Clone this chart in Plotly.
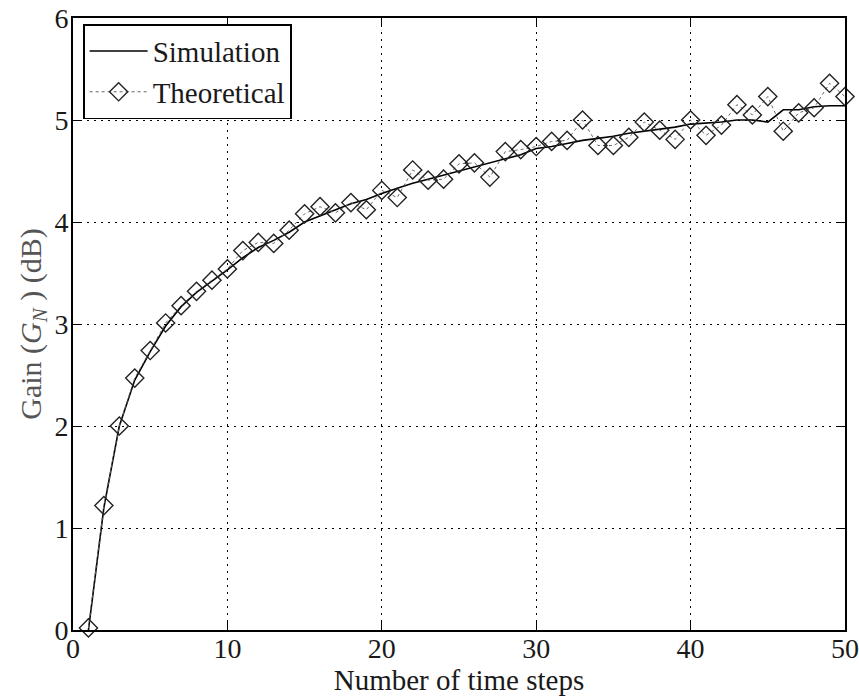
import plotly.graph_objects as go

steps = list(range(1, 51))

simulation = [0.0, 1.2, 2.0, 2.45, 2.73, 2.98, 3.17, 3.31, 3.42, 3.53,
              3.65, 3.75, 3.82, 3.9, 4.0, 4.06, 4.12, 4.18, 4.22, 4.28,
              4.33, 4.38, 4.42, 4.46, 4.5, 4.54, 4.58, 4.62, 4.66, 4.72,
              4.74, 4.77, 4.8, 4.82, 4.84, 4.87, 4.89, 4.91, 4.93, 4.96,
              4.97, 4.98, 5.0, 5.0, 4.98, 5.1, 5.1, 5.13, 5.14, 5.14]

theoretical = [0.02, 1.22, 2.0, 2.47, 2.74, 3.01, 3.18, 3.32, 3.43, 3.54,
               3.72, 3.8, 3.79, 3.92, 4.08, 4.15, 4.09, 4.19, 4.12, 4.31,
               4.24, 4.51, 4.41, 4.42, 4.57, 4.58, 4.44, 4.69, 4.71, 4.74,
               4.79, 4.8, 5.0, 4.75, 4.75, 4.83, 4.98, 4.9, 4.81, 5.0,
               4.85, 4.95, 5.15, 5.05, 5.23, 4.89, 5.07, 5.12, 5.36, 5.23]

x_ticks = [0, 10, 20, 30, 40, 50]
y_ticks = [0, 1, 2, 3, 4, 5, 6]

fig = go.Figure()
fig.add_trace(go.Scatter(
    x=steps, y=simulation, mode="lines", name="Simulation",
    line=dict(color="black", width=1.6), cliponaxis=False))
fig.add_trace(go.Scatter(
    x=steps, y=theoretical, mode="lines+markers", name="Theoretical",
    line=dict(color="#666666", width=1, dash="dot"),
    marker=dict(symbol="diamond-open", size=14, color="#222222",
                line=dict(width=1.4, color="#222222")),
    cliponaxis=False))

font_family = "Liberation Serif, Times New Roman, serif"
axis_common = dict(
    showline=True, linecolor="black", linewidth=1.6, mirror="ticks",
    ticks="inside", ticklen=8, tickwidth=1.4, tickcolor="black",
    showgrid=True, gridcolor="black", gridwidth=1.2, griddash="2px,5px",
    zeroline=False, automargin=False,
    tickfont=dict(family=font_family, size=28, color="#1a1a1a"),
)

fig.update_layout(
    width=859, height=698,
    margin=dict(l=73, r=14, t=18, b=68),
    paper_bgcolor="white", plot_bgcolor="white",
    font=dict(family=font_family, size=28, color="#1a1a1a"),
    showlegend=True,
    legend=dict(x=0.013, y=0.99, xanchor="left", yanchor="top",
                bgcolor="white", bordercolor="black", borderwidth=1.6,
                font=dict(family=font_family, size=29, color="#1a1a1a"),
                tracegroupgap=0, itemwidth=58),
    xaxis=dict(range=[0, 50], tickvals=x_ticks, ticklabelstandoff=-7,
               title=dict(text="Number of time steps", standoff=0,
                          font=dict(family=font_family, size=29, color="#1a1a1a")),
               **axis_common),
    yaxis=dict(range=[0, 6], tickvals=y_ticks, ticklabelstandoff=-3,
               title=dict(text="Gain (<i>G</i><sub><i>N</i></sub> ) (dB)", standoff=4,
                          font=dict(family=font_family, size=30, color="#555")),
               **axis_common),
)

fig.write_html("out.html", config={"displayModeBar": False},
               post_script="document.body.style.margin='0';")
